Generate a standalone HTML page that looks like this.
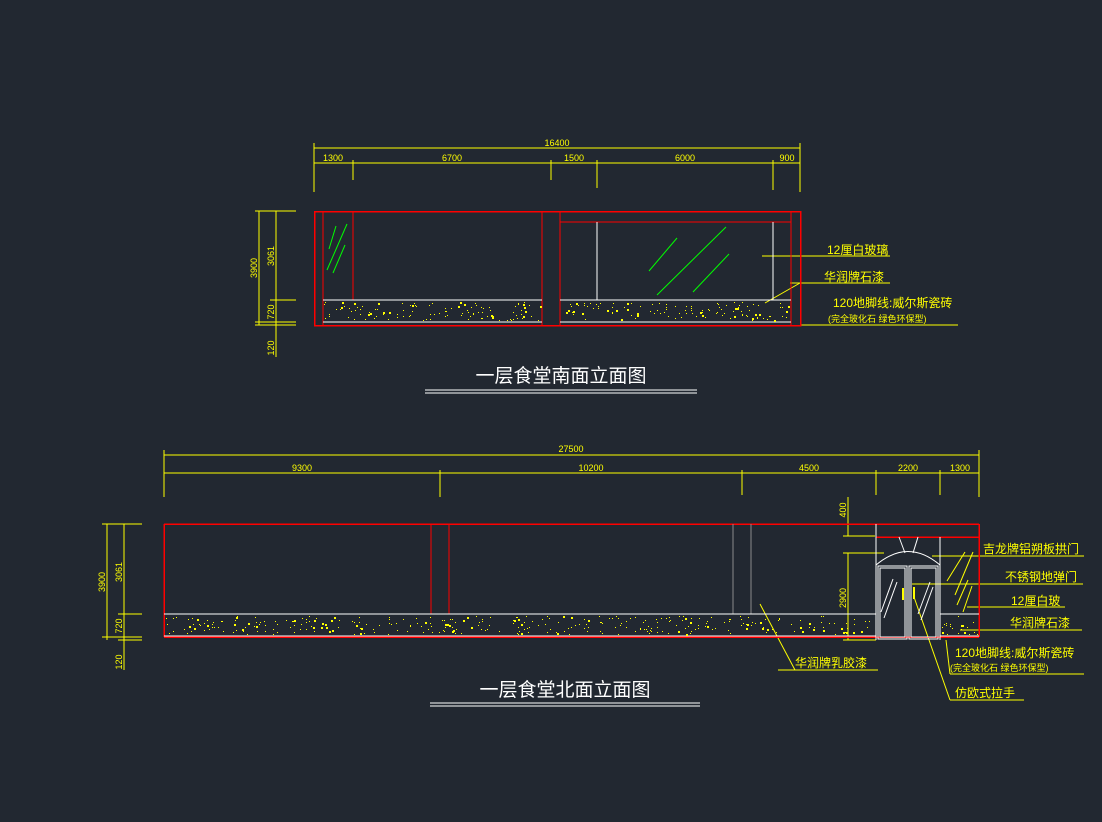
<!DOCTYPE html>
<html><head><meta charset="utf-8"><style>
html,body{margin:0;padding:0;background:#222831;}
svg{display:block}
text{font-family:"Liberation Sans","Noto Sans CJK SC",sans-serif;}
.d{fill:#ffff00;font-size:9px;}
.l{fill:#ffff00;font-size:12px;}
.s{fill:#ffff00;font-size:9px;}
.t{fill:#ffffff;font-size:19px;}
.c{shape-rendering:crispEdges}
</style></head><body>
<svg id="s" width="1102" height="822" viewBox="0 0 1102 822" xmlns="http://www.w3.org/2000/svg">
<rect width="1102" height="822" fill="#222831"/>
<g class="c" stroke="#ffff00" stroke-width="1" fill="none">
<line x1="314" y1="148" x2="800" y2="148"/><line x1="314" y1="163" x2="800" y2="163"/>
<line x1="314" y1="143" x2="314" y2="192"/><line x1="800" y1="143" x2="800" y2="192"/>
<line x1="353" y1="160" x2="353" y2="180"/><line x1="551" y1="160" x2="551" y2="180"/>
<line x1="597" y1="160" x2="597" y2="188"/><line x1="773" y1="160" x2="773" y2="190"/>
<line x1="259" y1="211" x2="259" y2="325"/><line x1="276" y1="211" x2="276" y2="357"/>
<line x1="255" y1="211" x2="296" y2="211"/><line x1="270" y1="300" x2="296" y2="300"/>
<line x1="255" y1="322" x2="296" y2="322"/><line x1="255" y1="325" x2="296" y2="325"/>
<line x1="762" y1="256" x2="890" y2="256"/><line x1="790" y1="283" x2="890" y2="283"/>
<line x1="800" y1="325" x2="958" y2="325"/>
<line x1="164" y1="455" x2="979" y2="455"/><line x1="164" y1="473" x2="979" y2="473"/>
<line x1="164" y1="450" x2="164" y2="497"/><line x1="979" y1="450" x2="979" y2="497"/>
<line x1="440" y1="470" x2="440" y2="497"/><line x1="742" y1="470" x2="742" y2="495"/>
<line x1="876" y1="470" x2="876" y2="495"/><line x1="940" y1="470" x2="940" y2="495"/>
<line x1="107" y1="524" x2="107" y2="640"/><line x1="124" y1="524" x2="124" y2="670"/>
<line x1="102" y1="524" x2="142" y2="524"/><line x1="118" y1="614" x2="142" y2="614"/>
<line x1="102" y1="637" x2="142" y2="637"/><line x1="118" y1="640" x2="142" y2="640"/>
<line x1="848" y1="497" x2="848" y2="536"/><line x1="843" y1="524" x2="875" y2="524"/><line x1="843" y1="536" x2="875" y2="536"/>
<line x1="848" y1="553" x2="848" y2="640"/><line x1="843" y1="553" x2="884" y2="553"/><line x1="843" y1="640" x2="876" y2="640"/>
<line x1="932" y1="556" x2="1084" y2="556"/><line x1="912" y1="584" x2="1083" y2="584"/>
<line x1="967" y1="607" x2="1065" y2="607"/><line x1="960" y1="630" x2="1082" y2="630"/>
<line x1="950" y1="674" x2="1084" y2="674"/>
<line x1="950" y1="700" x2="1024" y2="700"/>
<line x1="778" y1="670" x2="878" y2="670"/>
<line x1="903" y1="588" x2="903" y2="600" stroke-width="2"/><line x1="914" y1="587" x2="914" y2="599" stroke-width="2"/>
</g>
<g stroke="#ffff00" stroke-width="1" fill="none">
<line x1="765" y1="303" x2="800" y2="283"/>
<line x1="946" y1="640" x2="950" y2="674"/>
<line x1="914" y1="597" x2="950" y2="700"/>
<line x1="760" y1="604" x2="795" y2="670"/>
<line x1="947" y1="581" x2="965" y2="552"/><line x1="955" y1="595" x2="973" y2="552"/>
<line x1="957" y1="605" x2="968" y2="580"/><line x1="963" y1="612" x2="972" y2="586"/>
</g>
<g fill="none">
<g class="c">
<rect x="314.5" y="211.5" width="486" height="114" stroke="#ff0000" stroke-width="1.5"/>
<g stroke="#ff0000" stroke-width="1">
<line x1="323" y1="211" x2="323" y2="325"/><line x1="791" y1="211" x2="791" y2="325"/>
<line x1="353" y1="211" x2="353" y2="300"/>
<line x1="542" y1="211" x2="542" y2="325"/><line x1="560" y1="211" x2="560" y2="325"/>
<line x1="560" y1="222" x2="791" y2="222"/>
</g>
<g stroke="#ffffff" stroke-width="1">
<line x1="597" y1="222" x2="597" y2="300"/><line x1="773" y1="222" x2="773" y2="300"/>
<line x1="323" y1="300" x2="542" y2="300"/><line x1="560" y1="300" x2="791" y2="300"/>
<line x1="323" y1="322" x2="542" y2="322"/><line x1="560" y1="322" x2="791" y2="322"/>
</g>
</g>
<g stroke="#00ff00" stroke-width="1">
<line x1="329" y1="249" x2="336" y2="226"/><line x1="327" y1="270" x2="347" y2="224"/>
<line x1="333" y1="273" x2="345" y2="245"/>
<line x1="649" y1="271" x2="677" y2="238"/><line x1="657" y1="295" x2="726" y2="227"/>
<line x1="693" y1="292" x2="729" y2="254"/>
</g>
<g class="c">
<g stroke="#ff0000" stroke-width="1.5">
<line x1="164" y1="524" x2="979" y2="524"/><line x1="164" y1="637" x2="979" y2="637"/>
<line x1="164" y1="524" x2="164" y2="637"/><line x1="979" y1="524" x2="979" y2="637"/>
<line x1="876" y1="537" x2="979" y2="537"/>
</g>
<g stroke="#ff0000" stroke-width="1">
<line x1="431" y1="524" x2="431" y2="614"/><line x1="449" y1="524" x2="449" y2="614"/>
</g>
<g stroke="#8a8a8a" stroke-width="1">
<line x1="733" y1="524" x2="733" y2="614"/><line x1="751" y1="524" x2="751" y2="614"/>
</g>
<g stroke="#ffffff" stroke-width="1">
<line x1="164" y1="614" x2="876" y2="614"/><line x1="940" y1="614" x2="979" y2="614"/>
<line x1="164" y1="636" x2="876" y2="636"/><line x1="940" y1="636" x2="979" y2="636"/>
<line x1="876" y1="524" x2="876" y2="640"/><line x1="940" y1="537" x2="940" y2="640"/>
<rect x="878" y="566" width="29" height="73"/><rect x="909" y="566" width="29" height="73"/>
<rect x="880" y="568" width="25" height="69"/><rect x="911" y="568" width="25" height="69"/>
</g>
</g>
<g stroke="#ffffff" stroke-width="1">
<path d="M876 565 Q908 538 940 565"/>
<line x1="899" y1="537" x2="905" y2="553"/><line x1="918" y1="537" x2="913" y2="553"/>
<line x1="881" y1="612" x2="893" y2="579"/><line x1="884" y1="618" x2="897" y2="582"/>
<line x1="918" y1="614" x2="930" y2="582"/><line x1="921" y1="620" x2="933" y2="587"/>
</g>
</g>
<g id="h" fill="#ffff00"></g>
<text class="d" x="557" y="146" text-anchor="middle">16400</text>
<text class="d" x="333" y="161" text-anchor="middle">1300</text>
<text class="d" x="452" y="161" text-anchor="middle">6700</text>
<text class="d" x="574" y="161" text-anchor="middle">1500</text>
<text class="d" x="685" y="161" text-anchor="middle">6000</text>
<text class="d" x="787" y="161" text-anchor="middle">900</text>
<text class="d" transform="translate(257,268) rotate(-90)" text-anchor="middle">3900</text>
<text class="d" transform="translate(274,256) rotate(-90)" text-anchor="middle">3061</text>
<text class="d" transform="translate(274,312) rotate(-90)" text-anchor="middle">720</text>
<text class="d" transform="translate(274,348) rotate(-90)" text-anchor="middle">120</text>
<text class="l" x="827" y="254">12厘白玻璃</text>
<text class="l" x="824" y="281">华润牌石漆</text>
<text class="l" x="833" y="307">120地脚线:威尔斯瓷砖</text>
<text class="s" x="828" y="322">(完全玻化石 绿色环保型)</text>
<text class="t" x="561" y="382" text-anchor="middle">一层食堂南面立面图</text>
<line class="c" x1="425" y1="390" x2="697" y2="390" stroke="#fff"/><line class="c" x1="425" y1="393" x2="697" y2="393" stroke="#fff"/>
<text class="d" x="571" y="452" text-anchor="middle">27500</text>
<text class="d" x="302" y="471" text-anchor="middle">9300</text>
<text class="d" x="591" y="471" text-anchor="middle">10200</text>
<text class="d" x="809" y="471" text-anchor="middle">4500</text>
<text class="d" x="908" y="471" text-anchor="middle">2200</text>
<text class="d" x="960" y="471" text-anchor="middle">1300</text>
<text class="d" transform="translate(105,582) rotate(-90)" text-anchor="middle">3900</text>
<text class="d" transform="translate(122,572) rotate(-90)" text-anchor="middle">3061</text>
<text class="d" transform="translate(122,626) rotate(-90)" text-anchor="middle">720</text>
<text class="d" transform="translate(122,662) rotate(-90)" text-anchor="middle">120</text>
<text class="d" transform="translate(846,510) rotate(-90)" text-anchor="middle">400</text>
<text class="d" transform="translate(846,598) rotate(-90)" text-anchor="middle">2900</text>
<text class="l" x="983" y="553">吉龙牌铝朔板拱门</text>
<text class="l" x="1005" y="581">不锈钢地弹门</text>
<text class="l" x="1011" y="605">12厘白玻</text>
<text class="l" x="1010" y="627">华润牌石漆</text>
<text class="l" x="955" y="657">120地脚线:威尔斯瓷砖</text>
<text class="s" x="950" y="671">(完全玻化石 绿色环保型)</text>
<text class="l" x="955" y="697">仿欧式拉手</text>
<text class="l" x="795" y="667">华润牌乳胶漆</text>
<text class="t" x="565" y="696" text-anchor="middle">一层食堂北面立面图</text>
<line class="c" x1="430" y1="703" x2="700" y2="703" stroke="#fff"/><line class="c" x1="430" y1="706" x2="700" y2="706" stroke="#fff"/>
</svg>
<script>
(function(){
var g=document.getElementById('h'),seed=7;
function r(){seed=(seed*16807)%2147483647;return seed/2147483647;}
function fill(x1,x2,y1,y2,n){for(var i=0;i<n;i++){var e=document.createElementNS('http://www.w3.org/2000/svg','rect');
var s=r()<0.2?2:1;e.setAttribute('x',Math.round(x1+r()*(x2-x1)));e.setAttribute('y',Math.round(y1+r()*(y2-y1)));
e.setAttribute('width',s);e.setAttribute('height',s);g.appendChild(e);}}
fill(324,541,302,320,110);fill(561,790,302,320,115);
fill(165,875,616,634,330);fill(941,978,616,634,20);
})();
</script>
</body></html>
